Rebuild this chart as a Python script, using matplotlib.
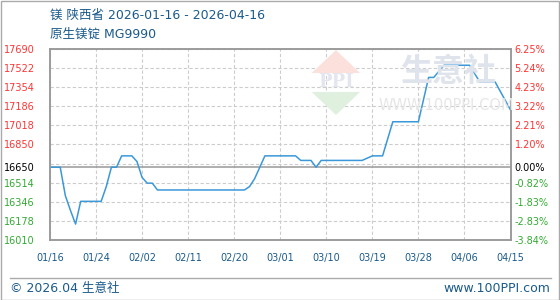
import matplotlib
matplotlib.use("Agg")
import matplotlib.pyplot as plt
from matplotlib.patches import Polygon, Rectangle
import pandas as pd

plt.rcParams['font.family'] = ['DejaVu Sans', 'Noto Sans CJK SC']

# price turning points (day offset from 2026-01-16, yuan/t)
days = [0, 2, 3, 4, 5, 6, 10, 11, 12, 13, 14, 16, 17, 18, 19, 20, 21, 38, 39, 40,
        41, 42, 48, 49, 51, 52, 53, 61, 63, 65, 66, 67, 72, 74, 75, 77, 82, 84, 87, 90]
prices = [16650, 16650, 16400, 16270, 16150, 16350, 16350, 16480, 16650, 16650,
          16750, 16750, 16700, 16560, 16510, 16510, 16450, 16450, 16480, 16550,
          16650, 16750, 16750, 16710, 16710, 16650, 16710, 16710, 16750, 16750,
          16900, 17050, 17050, 17440, 17440, 17547, 17547, 17400, 17400, 17154]

base_price = 16650
grid_values = [16010, 16178, 16346, 16514, 16682, 16850, 17018, 17186, 17354, 17522, 17690]
left_ticks = [16010, 16178, 16346, 16514, 16650, 16850, 17018, 17186, 17354, 17522, 17690]
x_ticks = [0, 9, 18, 27, 36, 45, 54, 63, 72, 81, 90]
x_labels = ["01/16", "01/24", "02/02", "02/11", "02/20", "03/01",
            "03/10", "03/19", "03/28", "04/06", "04/15"]

title1 = "镁 陕西省 2026-01-16 - 2026-04-16"
title2 = "原生镁锭 MG9990"

df = pd.DataFrame({"day": days, "price": prices})

RED = "#ff3333"
GREEN = "#33aa33"
BLUE_TXT = "#1a5a8c"
LINE = "#3a98d8"

fig = plt.figure(figsize=(5.6, 3.0), dpi=100)
ax = fig.add_axes([50 / 560, 1 - 240 / 300, 460.5 / 560, 191 / 300])

# watermark
wm = "#dfe3ec"
fig.patches.append(Polygon([[311.7 / 560, 1 - 73 / 300], [360 / 560, 1 - 73 / 300],
                            [336 / 560, 1 - 50 / 300]], closed=True,
                           transform=fig.transFigure, facecolor="#fbe0dc",
                           edgecolor="none", zorder=0.1))
fig.patches.append(Polygon([[311.7 / 560, 1 - 92 / 300], [360 / 560, 1 - 92 / 300],
                            [336 / 560, 1 - 115 / 300]], closed=True,
                           transform=fig.transFigure, facecolor="#dff0df",
                           edgecolor="none", zorder=0.1))
fig.text(336 / 560, 1 - 82 / 300, "PPI", fontsize=13, fontweight="bold",
         color="#e3e6ee", ha="center", va="center", family="DejaVu Serif", zorder=0.1)
fig.text(448 / 560, 1 - 72 / 300, "生意社", fontsize=23, fontweight="bold",
         color=wm, ha="center", va="center", family="Noto Sans CJK SC", zorder=0.1)
fig.text(446 / 560, 1 - 105 / 300, "WWW.100PPI.COM", fontsize=10.5,
         color="#e6e6e6", ha="center", va="center", zorder=0.1)
ax.patch.set_alpha(0)

for g in grid_values:
    ax.axhline(g, color="#cccccc", lw=0.8, ls=(0, (3, 2)), zorder=1)
for t in x_ticks:
    ax.axvline(t, color="#cccccc", lw=0.8, ls=(0, (3, 2)), zorder=1)
ax.axhline(base_price, color="#999999", lw=1.1, zorder=2)

ax.plot(df["day"], df["price"], color=LINE, lw=1.1, zorder=3)

ax.set_xlim(0, 90)
ax.set_ylim(16010, 17690)
ax.set_xticks(x_ticks)
ax.set_xticklabels(x_labels)
ax.set_yticks(left_ticks)
ax.set_yticklabels([str(v) for v in left_ticks])
ax.tick_params(axis="x", length=0, pad=9, labelsize=7, labelcolor=BLUE_TXT)
ax.tick_params(axis="y", length=0, pad=11, labelsize=7)
for lab, v in zip(ax.get_yticklabels(), left_ticks):
    lab.set_color(RED if v > base_price else (GREEN if v < base_price else "black"))

ax2 = ax.twinx()
ax2.set_ylim(ax.get_ylim())
ax2.set_yticks(left_ticks)
pct = [(v - base_price) / base_price * 100 for v in left_ticks]
ax2.set_yticklabels(["%.2f%%" % p for p in pct])
ax2.tick_params(axis="y", length=0, pad=3, labelsize=7)
for lab, v in zip(ax2.get_yticklabels(), left_ticks):
    lab.set_color(RED if v > base_price else (GREEN if v < base_price else "black"))

for a in (ax, ax2):
    for s in a.spines.values():
        s.set_color("#999999")
        s.set_linewidth(1.1)

fig.text(50 / 560, 1 - 15 / 300, title1, fontsize=9, color=BLUE_TXT, va="center")
fig.text(50 / 560, 1 - 34 / 300, title2, fontsize=9, color=BLUE_TXT, va="center")

fig.lines.append(plt.Line2D([10 / 560, 551 / 560], [1 - 277.5 / 300, 1 - 277.5 / 300],
                            transform=fig.transFigure, color="#aaaaaa", lw=1))
fig.text(10 / 560, 1 - 288.5 / 300, "© 2026.04 生意社", fontsize=9, color=BLUE_TXT,
         va="center")
fig.text(550 / 560, 1 - 288.5 / 300, "www.100PPI.com", fontsize=9, color=BLUE_TXT,
         va="center", ha="right")

fig.patches.append(Rectangle((0.5 / 560, 0.5 / 300), 558.5 / 560, 298.5 / 300,
                             transform=fig.transFigure, fill=False,
                             edgecolor="#aaaaaa", lw=1))

fig.savefig("out.png", dpi=100)
